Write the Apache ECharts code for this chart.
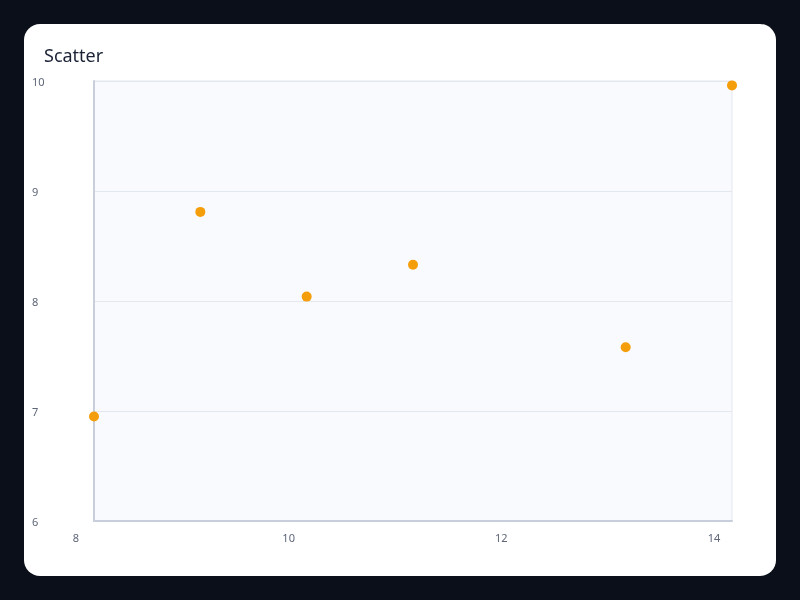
<!DOCTYPE html>
<html>
<head>
<meta charset="utf-8">
<script src="https://cdn.jsdelivr.net/npm/echarts@6/dist/echarts.min.js"></script>
<style>
  html, body { margin: 0; padding: 0; width: 800px; height: 600px; background: #0b0f1a; overflow: hidden; }
  #card { position: absolute; left: 24px; top: 24px; width: 752px; height: 552px; background: #ffffff; border-radius: 16px; }
  #chart { position: absolute; left: 0; top: 0; width: 800px; height: 600px; }
</style>
</head>
<body>
<div id="card"></div>
<div id="chart"></div>
<script>
const xValues = [10, 8, 13, 9, 11, 14];
const yValues = [8.04, 6.95, 7.58, 8.81, 8.33, 9.96];
const xTicks = [8, 10, 12, 14];
const yTicks = [6, 7, 8, 9, 10];

const points = xValues.map((x, i) => [x, yValues[i]]);

const chart = echarts.init(document.getElementById('chart'), null, { renderer: 'canvas' });
chart.setOption({
  backgroundColor: 'transparent',
  animation: false,
  title: {
    text: 'Scatter',
    left: 39,
    top: 43,
    textStyle: { fontFamily: 'Noto Sans', fontSize: 18, fontWeight: 'normal', color: '#1b2236' }
  },
  grid: {
    left: 94, right: 68, top: 81, bottom: 79,
    show: true,
    backgroundColor: '#f8fafd',
    borderColor: '#e3e7ee',
    borderWidth: 1
  },
  xAxis: {
    type: 'value',
    min: xTicks[0],
    max: xTicks[xTicks.length - 1],
    interval: 2,
    axisLine: { show: true, lineStyle: { color: '#c8cfdb', width: 2 } },
    axisTick: { show: false },
    splitLine: { show: false },
    axisLabel: {
      margin: 12,
      padding: [0, 36, 0, 0],
      fontFamily: 'Noto Sans',
      fontSize: 11,
      color: '#5d6577'
    }
  },
  yAxis: {
    type: 'value',
    min: yTicks[0],
    max: yTicks[yTicks.length - 1],
    interval: 1,
    axisLine: { show: true, lineStyle: { color: '#c8cfdb', width: 2 } },
    axisTick: { show: false },
    splitLine: { show: true, lineStyle: { color: '#e3e7ee', width: 1 } },
    axisLabel: {
      align: 'left',
      verticalAlign: 'top',
      lineHeight: 4,
      margin: 62,
      fontFamily: 'Noto Sans',
      fontSize: 11,
      color: '#5d6577'
    }
  },
  series: [{
    type: 'scatter',
    data: points,
    symbolSize: 10,
    itemStyle: { color: '#f59e0b', opacity: 1 }
  }]
});
</script>
</body>
</html>
